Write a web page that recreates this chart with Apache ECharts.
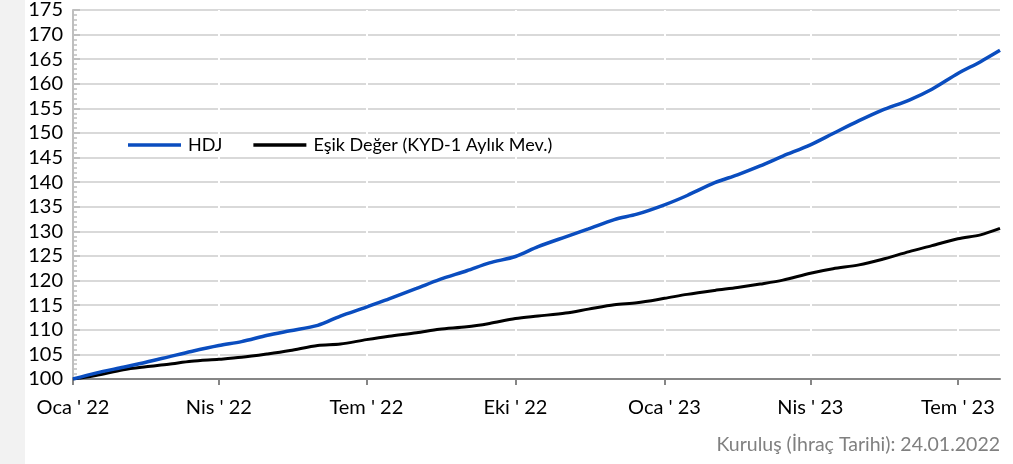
<!DOCTYPE html>
<html lang="tr">
<head>
<meta charset="UTF-8">
<title>HDJ ve Eşik Değer</title>
<script src="https://cdn.jsdelivr.net/npm/echarts@6/dist/echarts.min.js"></script>
<style>
  html, body { margin: 0; padding: 0; background: #fff; }
  #main { width: 1013px; height: 464px; }
</style>
</head>
<body>
<div id="main"></div>
<script>
// tarihler (yarım aylık okuma noktaları)
var dates = [
  '2022-01-01','2022-01-15','2022-02-01','2022-02-15','2022-03-01','2022-03-15',
  '2022-04-01','2022-04-15','2022-05-01','2022-05-15','2022-06-01','2022-06-15',
  '2022-07-01','2022-07-15','2022-08-01','2022-08-15','2022-09-01','2022-09-15',
  '2022-10-01','2022-10-15','2022-11-01','2022-11-15','2022-12-01','2022-12-15',
  '2023-01-01','2023-01-15','2023-02-01','2023-02-15','2023-03-01','2023-03-15',
  '2023-04-01','2023-04-15','2023-05-01','2023-05-15','2023-06-01','2023-06-15',
  '2023-07-01','2023-07-15','2023-07-27'
];
var hdj = [
  100.0, 101.2, 102.4, 103.4, 104.5, 105.6,
  106.8, 107.6, 108.9, 109.8, 110.9, 112.8,
  114.6, 116.3, 118.4, 120.2, 122.0, 123.6,
  124.9, 126.9, 128.9, 130.5, 132.4, 133.5,
  135.4, 137.3, 139.9, 141.5, 143.3, 145.3,
  147.6, 149.9, 152.5, 154.6, 156.7, 158.9,
  162.1, 164.5, 166.8
];
var esik = [
  100.0, 100.7, 101.9, 102.5, 103.0, 103.6,
  104.0, 104.4, 105.1, 105.8, 106.8, 107.1,
  108.0, 108.7, 109.4, 110.1, 110.6, 111.3,
  112.3, 112.8, 113.4, 114.2, 115.1, 115.5,
  116.4, 117.2, 118.0, 118.6, 119.3, 120.1,
  121.5, 122.4, 123.2, 124.3, 125.9, 127.1,
  128.5, 129.3, 130.6
];
var tickDates = ['2022-01-01','2022-04-01','2022-07-01','2022-10-01','2023-01-01','2023-04-01','2023-07-01'];
var aylar = ['Oca','Şub','Mar','Nis','May','Haz','Tem','Ağu','Eyl','Eki','Kas','Ara'];

function ts(s) {
  var p = s.split('-');
  return new Date(+p[0], +p[1] - 1, +p[2]).getTime();
}

var myChart = echarts.init(document.getElementById('main'));
var font = 'Lato, "Open Sans", sans-serif';

var option = {
  animation: false,
  textStyle: { fontFamily: font },
  graphic: [{
    type: 'rect', left: 0, top: 0, z: -10,
    shape: { width: 25, height: 464 },
    style: { fill: '#f2f2f2' }
  }, {
    type: 'text', right: 13, top: 435,
    style: { text: 'Kuruluş (İhraç Tarihi): 24.01.2022', fill: '#808080', font: '19.5px ' + font }
  }],
  grid: { left: 73, right: 13, top: 10, bottom: 85 },
  legend: {
    left: 124, top: 134,
    backgroundColor: '#fff',
    padding: [2, 4],
    icon: 'rect',
    itemWidth: 53, itemHeight: 3.5, itemGap: 31,
    textStyle: { fontSize: 18, color: '#000', fontFamily: font, padding: [0, 0, 0, 2] },
    data: ['HDJ', 'Eşik Değer (KYD-1 Aylık Mev.)']
  },
  xAxis: {
    type: 'value',
    min: ts(dates[0]),
    max: ts(dates[dates.length - 1]),
    axisLine: { lineStyle: { color: '#868686', width: 2 } },
    axisTick: {
      show: true, length: 6,
      lineStyle: { color: '#868686', width: 2 },
      customValues: tickDates.map(ts)
    },
    axisLabel: {
      customValues: tickDates.map(ts),
      margin: 19,
      fontSize: 20, color: '#000',
      formatter: function (v) {
        var d = new Date(v);
        return aylar[d.getMonth()] + " ' " + String(d.getFullYear()).slice(2);
      }
    },
    splitLine: { show: true, lineStyle: { color: '#fff', width: 2 } }
  },
  yAxis: {
    type: 'value',
    min: 100, max: 175, interval: 5,
    axisLine: { show: true, lineStyle: { color: '#bfbfbf', width: 2 } },
    axisTick: { show: true, inside: true, length: 7, lineStyle: { color: '#bfbfbf', width: 2 } },
    minorTick: { show: true, splitNumber: 5, length: 4, lineStyle: { color: '#bfbfbf', width: 1.5 } },
    axisLabel: { fontSize: 20, color: '#000', margin: 10 },
    splitLine: { lineStyle: { color: '#d9d9d9', width: 2 } }
  },
  series: [{
    name: 'HDJ',
    type: 'line',
    symbol: 'none',
    smooth: 0.3,
    z: 3,
    lineStyle: { color: '#0a4dbf', width: 3.5 },
    itemStyle: { color: '#0a4dbf' },
    data: dates.map(function (d, i) { return [ts(d), hdj[i]]; })
  }, {
    name: 'Eşik Değer (KYD-1 Aylık Mev.)',
    type: 'line',
    symbol: 'none',
    smooth: 0.3,
    z: 2,
    lineStyle: { color: '#000', width: 3 },
    itemStyle: { color: '#000' },
    data: dates.map(function (d, i) { return [ts(d), esik[i]]; })
  }]
};

myChart.setOption(option);
window.addEventListener('resize', function () { myChart.resize(); });
</script>
</body>
</html>
